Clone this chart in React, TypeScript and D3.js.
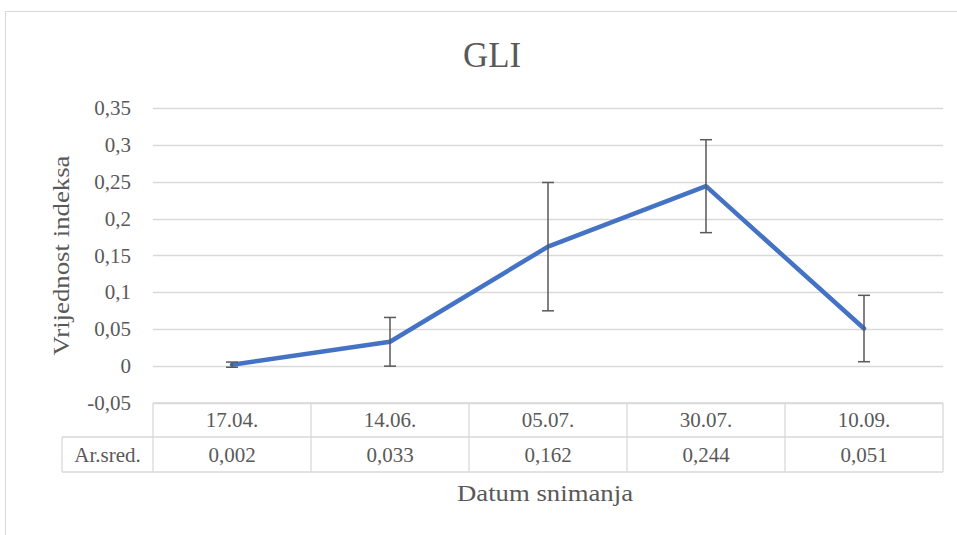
import React from 'react';
import * as d3 from 'd3';

const categories = ['17.04.', '14.06.', '05.07.', '30.07.', '10.09.'];
const means = [0.002, 0.033, 0.162, 0.244, 0.051];
const errors = [0.0035, 0.033, 0.087, 0.063, 0.045];
const yTicks = [-0.05, 0, 0.05, 0.1, 0.15, 0.2, 0.25, 0.3, 0.35];
const rowLabel = 'Ar.sred.';

const fmt = (v: number) => String(+v.toFixed(3)).replace('.', ',');

const W = 957;
const H = 535;
const TEXT = '#595959';
const GRID = '#d9d9d9';
const LEFT = 153;
const RIGHT = 943;
const ROW_MID = 437;
const ROW_BOT = 472;
const TABLE_LEFT = 62;

const y = d3.scaleLinear().domain([-0.05, 0.35]).range([403, 108]);
const x = d3.scaleBand<string>().domain(categories).range([LEFT, RIGHT]);
const cx = (c: string) => (x(c) as number) + x.bandwidth() / 2;

const ts = (size: number) => ({ fontFamily: '"Liberation Serif"', fontSize: size, fill: TEXT });

const App = () => {
  const rowTop = y(-0.05);
  const line = d3.line<number>()
    .x((d, i) => cx(categories[i]))
    .y(d => y(d));
  const vLines = [...categories.map(c => x(c) as number), RIGHT];

  return (
    <svg width={W} height={H} style={{ position: 'absolute', left: 0, top: 0 }}>
      <rect x={5.5} y={11.5} width={W} height={H} fill="#fff" stroke={GRID} />

      <text x={492} y={67} textAnchor="middle" style={ts(36)}
        textLength={58} lengthAdjust="spacingAndGlyphs">GLI</text>

      {yTicks.map(t => (
        <line key={'g' + t} x1={LEFT} x2={RIGHT}
          y1={Math.round(y(t)) + 0.5} y2={Math.round(y(t)) + 0.5}
          stroke={GRID} strokeWidth={1.3} />
      ))}

      {yTicks.map(t => (
        <text key={'t' + t} x={131} y={y(t) + 7} textAnchor="end" style={ts(21)}>{fmt(t)}</text>
      ))}

      <text transform={`translate(69, ${y(0.15)}) rotate(-90)`} textAnchor="middle"
        style={ts(24)} textLength={200} lengthAdjust="spacingAndGlyphs">
        Vrijednost  indeksa
      </text>

      <g stroke={GRID} strokeWidth={1.3} fill="none">
        <line x1={LEFT} x2={RIGHT} y1={rowTop} y2={rowTop} />
        <line x1={TABLE_LEFT} x2={RIGHT} y1={ROW_MID} y2={ROW_MID} />
        <line x1={TABLE_LEFT} x2={RIGHT} y1={ROW_BOT} y2={ROW_BOT} />
        <line x1={TABLE_LEFT} x2={TABLE_LEFT} y1={ROW_MID} y2={ROW_BOT} />
        {vLines.map(v => (
          <line key={'v' + v} x1={v} x2={v} y1={rowTop} y2={ROW_BOT} />
        ))}
      </g>

      {categories.map(c => (
        <text key={'c' + c} x={cx(c)} y={(rowTop + ROW_MID) / 2 + 7}
          textAnchor="middle" style={ts(21)}>{c}</text>
      ))}
      {means.map((m, i) => (
        <text key={'m' + i} x={cx(categories[i])} y={(ROW_MID + ROW_BOT) / 2 + 7}
          textAnchor="middle" style={ts(21)}>{fmt(m)}</text>
      ))}
      <text x={(TABLE_LEFT + LEFT) / 2} y={(ROW_MID + ROW_BOT) / 2 + 7}
        textAnchor="middle" style={ts(21)}>{rowLabel}</text>

      <text x={545} y={501} textAnchor="middle" style={ts(23)}
        textLength={176} lengthAdjust="spacingAndGlyphs">Datum snimanja</text>

      <path d={line(means) ?? ''} fill="none" stroke="#4472C4" strokeWidth={4.5}
        strokeLinejoin="round" strokeLinecap="round" />

      <g stroke="#595959" strokeWidth={1.5}>
        {means.map((m, i) => {
          const px = cx(categories[i]);
          const top = y(m + errors[i]);
          const bot = y(m - errors[i]);
          return (
            <g key={'e' + i}>
              <line x1={px} x2={px} y1={top} y2={bot} />
              <line x1={px - 6} x2={px + 6} y1={top} y2={top} />
              <line x1={px - 6} x2={px + 6} y1={bot} y2={bot} />
            </g>
          );
        })}
      </g>
    </svg>
  );
};

export default App;
